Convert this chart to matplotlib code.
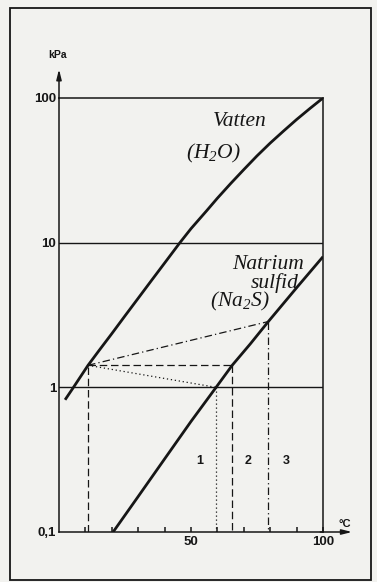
import matplotlib
matplotlib.use("Agg")
import matplotlib.pyplot as plt
from matplotlib.patches import Rectangle

# vapour pressure readings: temperature in deg C, pressure in kPa
water_t = [2.3, 5, 11, 15, 20, 25, 30, 35, 40, 45.8, 50, 55.9, 60, 65, 70,
           75, 80, 85, 90, 95, 100]
water_p = [0.82, 0.97, 1.42, 1.78, 2.35, 3.12, 4.13, 5.47, 7.23, 10, 12.5,
           16.6, 20.3, 25.6, 32, 39.8, 48.8, 59, 71, 84.5, 100]
na2s_t = [20.5, 30, 40, 50, 59.5, 65.6, 72.5, 79.3, 90, 100]
na2s_p = [0.1, 0.176, 0.32, 0.581, 1.0, 1.42, 2.0, 2.85, 4.88, 8.0]

# common starting point on the water curve and the three end points on Na2S
start_t, start_p = 11, 1.42
case_t = [59.5, 65.6, 79.3]
case_p = [1.0, 1.42, 2.85]
case_style = [(0, (1, 2.2)), (0, (6, 3)), (0, (6, 2.5, 1, 2.5))]
case_names = ["1", "2", "3"]
case_label_t = [53.4, 71.6, 86]

ytick_vals = [0.1, 1, 10, 100]
ytick_text = ["0,1", "1", "10", "100"]

ink = "#161616"
paper = "#f2f2ef"

plt.rcParams["mathtext.fontset"] = "custom"
plt.rcParams["mathtext.it"] = "Liberation Serif:italic"
plt.rcParams["mathtext.rm"] = "Liberation Serif:italic"

fig = plt.figure(figsize=(3.77, 5.82), dpi=100, facecolor=paper)
ax = fig.add_axes([59 / 377, 1 - 532 / 582, 264 / 377, 434 / 582])
ax.set_facecolor(paper)
ax.set_yscale("log")
ax.set_xlim(0, 100)
ax.set_ylim(0.1, 100)

for s in ax.spines.values():
    s.set_color(ink)
    s.set_linewidth(1.1)

ax.set_yticks(ytick_vals)
ax.set_yticklabels(ytick_text)
ax.yaxis.set_minor_locator(matplotlib.ticker.NullLocator())
ax.tick_params(axis="y", length=0, pad=2, labelsize=9.5, colors=ink)
ax.set_xticks([50, 100])
ax.set_xticks(range(10, 100, 10), minor=True)
ax.tick_params(axis="x", which="both", direction="in", length=3.5,
               width=1.1, pad=3, labelsize=9.5, colors=ink)
for lab in ax.get_xticklabels() + ax.get_yticklabels():
    lab.set_fontweight("bold")
    lab.set_family("Liberation Sans")

# decade lines
ax.axhline(1, color=ink, lw=1.0)
ax.axhline(10, color=ink, lw=1.0)

# vapour pressure curves
ax.plot(water_t, water_p, color=ink, lw=2.0, solid_capstyle="butt")
ax.plot(na2s_t, na2s_p, color=ink, lw=2.0, solid_capstyle="butt")

# construction lines
ax.plot([start_t, start_t], [0.1, start_p], color=ink, lw=0.9, ls=(0, (6, 3)))
for t, p, ls in zip(case_t, case_p, case_style):
    ax.plot([start_t, t], [start_p, p], color=ink, lw=0.9, ls=ls)
    ax.plot([t, t], [p, 0.1], color=ink, lw=0.9, ls=ls)
for name, t in zip(case_names, case_label_t):
    ax.text(t, 0.31, name, ha="center", va="center", fontsize=9,
            family="Liberation Sans", fontweight="bold", color=ink)

# axis arrows
arrow = dict(arrowstyle="-|>,head_length=0.6,head_width=0.15", color=ink,
             lw=1.1, shrinkA=0, shrinkB=0)
ax.annotate("", xy=(111, 0.1), xytext=(99, 0.1), arrowprops=arrow,
            annotation_clip=False)
ax.annotate("", xy=(0, 158), xytext=(0, 99), arrowprops=arrow,
            annotation_clip=False)
ax.text(-0.5, 198, "kPa", ha="center", va="center", fontsize=7.5,
        family="Liberation Sans", fontweight="bold", color=ink)
ax.text(108.3, 0.1135, "°C", ha="center", va="center", fontsize=8,
        family="Liberation Sans", fontweight="bold", color=ink)

# curve names
serif = dict(ha="center", va="center", fontsize=15.5, color=ink,
             family="Liberation Serif", style="italic")
ax.text(68.6, 68.3, "Vatten", **serif)
ax.text(58.3, 41.1, r"$(H_2O)$", **serif)
ax.text(79.2, 7.05, "Natrium", **serif)
ax.text(81.8, 5.3, "sulfid", **serif)
ax.text(68.6, 3.92, r"$(Na_2S)$", **serif)

# outer frame
fig.add_artist(Rectangle((10 / 377, 1 - 580 / 582), 361 / 377, 572 / 582,
                         transform=fig.transFigure, fill=False,
                         edgecolor=ink, lw=1.3))

fig.savefig("out.png", dpi=100, facecolor=paper)
